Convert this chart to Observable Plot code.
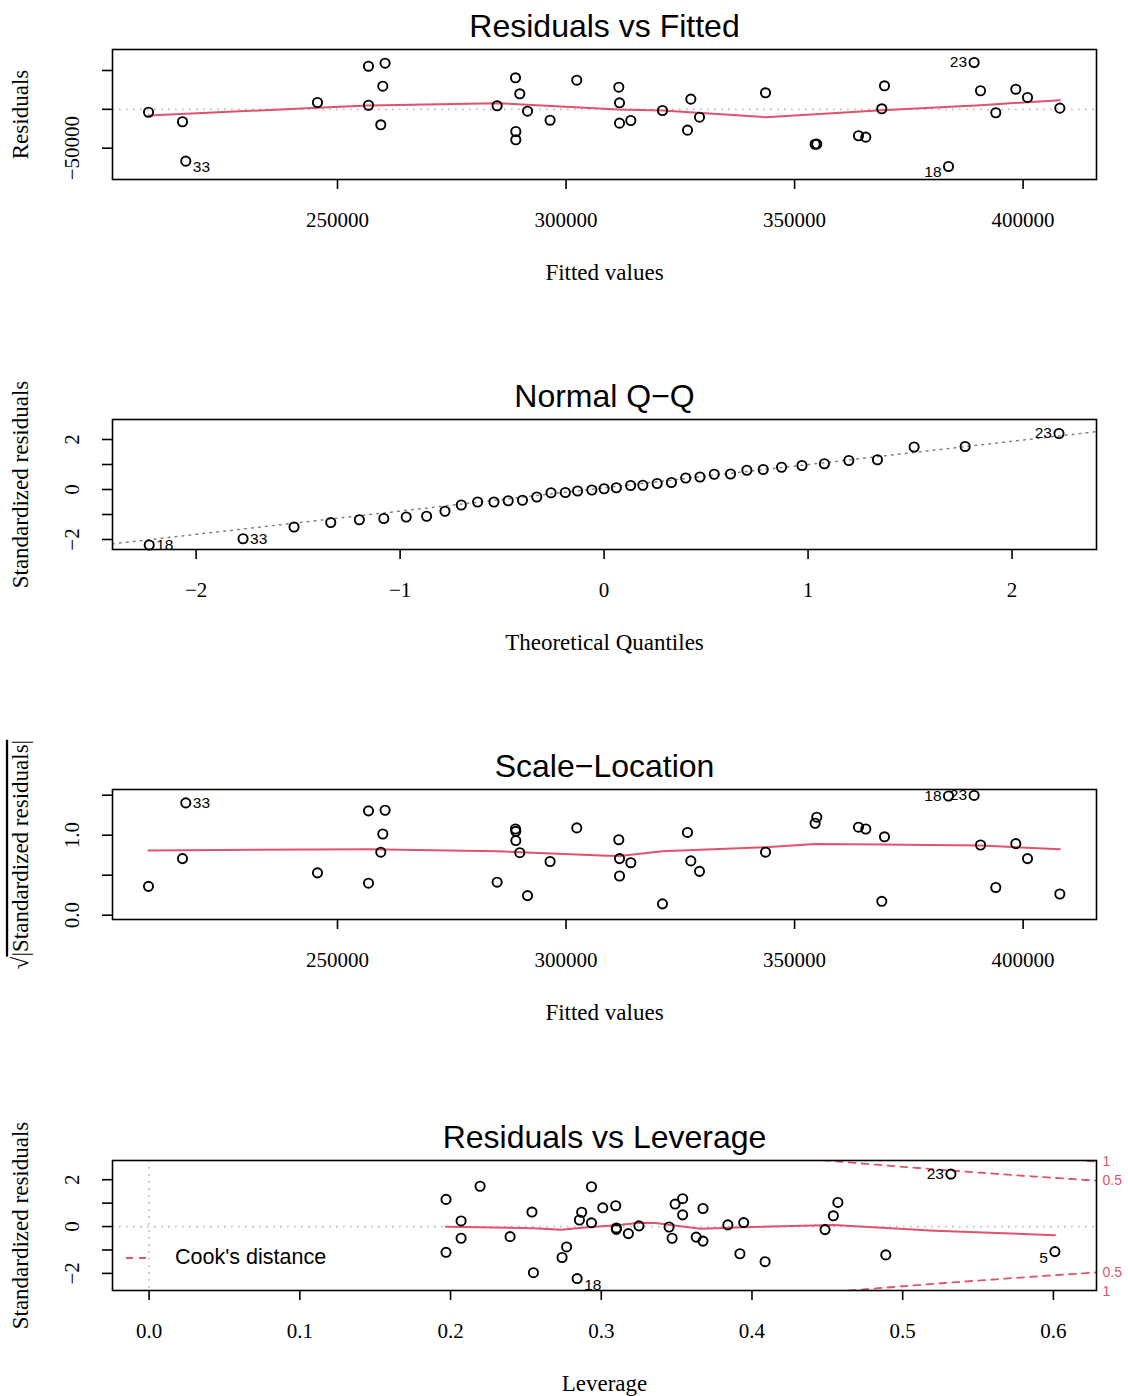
<!DOCTYPE html>
<html>
<head>
<meta charset="utf-8">
<script src="https://cdn.jsdelivr.net/npm/d3@7"></script>
<script src="https://cdn.jsdelivr.net/npm/@observablehq/plot@0.6"></script>
<style>
  html, body { margin: 0; padding: 0; background: #fff; overflow: hidden; }
  #chart { position: relative; width: 1128px; height: 1396px; overflow: hidden; background: #fff; }
  .panel { position: absolute; left: 0; }
  .panel svg { overflow: visible; }
  .legend-key { position: absolute; }
  .legend-text { position: absolute; transform: translateY(-50%); font-family: "Liberation Sans", Arial, Helvetica, sans-serif; font-size: 21.5px; line-height: 1; white-space: nowrap; }
</style>
</head>
<body>
<div id="chart"></div>
<script>
// ---- Model diagnostics for a linear model with 39 observations ----
// One entry per observation, in order of fitted value.
const fitted = [208650, 216090, 216810, 245620, 256780, 260410, 259910, 256780, 259470, 284920,
                288940, 289880, 291570, 296510, 289010, 289010, 302350, 311540, 311700, 311700,
                314170, 321100, 327300, 329200, 326570, 343640, 354490, 354860, 363980, 365580,
                369670, 369080, 383680, 389280, 390680, 394020, 398400, 400960, 408030];
const residual = [-3700, -16000, -66700, 8800, 55500, 59400, 29800, 5300, -19900, 4600,
                  40600, 20000, -2400, -14000, -28500, -39200, 37500, 28500, 8400, -17800,
                  -14400, -1500, 13100, -10100, -26800, 21300, -44900, -44700, -34000, -35800,
                  30300, 700, -73600, 60300, 23900, -4400, 25900, 15300, 1500];
const stdResid = [-0.13, -0.50, -1.97, 0.28, 1.70, 1.72, 1.03, 0.16, -0.62, 0.17,
                  1.16, 0.61, -0.06, -0.45, -0.87, -1.10, 1.19, 0.89, 0.24, -0.50,
                  -0.43, -0.02, 0.46, -0.30, -1.07, 0.62, -1.32, -1.50, -1.21, -1.16,
                  0.96, 0.03, -2.22, 2.24, 0.77, -0.12, 0.80, 0.50, 0.07];
const leverage = [0.4485, 0.347, 0.255, 0.2855, 0.2935, 0.2196, 0.457, 0.2935, 0.3675, 0.3945,
                  0.197, 0.287, 0.31, 0.363, 0.277, 0.197, 0.354, 0.3096, 0.207, 0.207,
                  0.2395, 0.345, 0.454, 0.318, 0.601, 0.254, 0.274, 0.4087, 0.4888, 0.392,
                  0.349, 0.325, 0.284, 0.532, 0.3675, 0.31, 0.301, 0.354, 0.384];

// Row names of the observations that get an id label (position in the arrays above, 1-based)
const labelPos = [3, 33, 34, 25];
const labelText = ["33", "18", "23", "5"];
const residIds = ["33", "18", "23"];   // largest residuals
const cookIds = ["18", "23", "5"];     // largest Cook's distances

// Normal quantiles for 39 points
const theoQuant = [-2.23, -1.77, -1.52, -1.34, -1.20, -1.08, -0.97, -0.87, -0.78, -0.70,
                   -0.62, -0.54, -0.47, -0.40, -0.33, -0.26, -0.19, -0.13, -0.06, 0.00,
                   0.06, 0.13, 0.19, 0.26, 0.33, 0.40, 0.47, 0.54, 0.62, 0.70,
                   0.78, 0.87, 0.97, 1.08, 1.20, 1.34, 1.52, 1.77, 2.23];

// Smoothers (lowess)
const smoothFitFitted = [208650, 245620, 256780, 284920, 311390, 321100, 343640, 369080, 390680, 400960, 408030];
const smoothFitResid  = [-7900, 2000, 5000, 7900, -200, -1500, -10100, -1100, 5300, 9200, 11800];
const smoothScaleFitted = [208650, 256780, 284920, 307600, 311700, 321100, 343640, 354490, 369080, 390680, 408030];
const smoothScaleValue  = [0.81, 0.825, 0.80, 0.746, 0.74, 0.80, 0.85, 0.89, 0.885, 0.87, 0.825];
const smoothLevLeverage = [0.197, 0.255, 0.273, 0.293, 0.310, 0.326, 0.336, 0.346, 0.366, 0.3945, 0.454, 0.521, 0.601];
const smoothLevResid    = [-0.01, -0.07, -0.14, -0.02, 0.06, 0.16, 0.15, 0.07, -0.09, -0.03, 0.07, -0.18, -0.37];

const params = 13;           // number of coefficients in the model
const cookLevels = [0.5, 1];

// Tick values
const fittedTicks = [250000, 300000, 350000, 400000];
const quantTicks = [-2, -1, 0, 1, 2];
const leverageTicks = [0, 0.1, 0.2, 0.3, 0.4, 0.5, 0.6];
const residTicks = [-50000, 0, 50000];
const residTickLabels = [-50000];
const stdTicks = [-2, -1, 0, 1, 2];
const stdTickLabels = [-2, 0, 2];
const sqrtTicks = [0, 0.5, 1, 1.5];
const sqrtTickLabels = [0, 1];

// ---- Layout & style ----
const W = 1128, H = 285, MT = 49, FH = 130, ML = 112, MR = 32;
const serif = '"Liberation Serif", "Times New Roman", serif';
const sans = '"Liberation Sans", Arial, Helvetica, sans-serif';
const RED = "#DF536B", GRAY = "#BEBEBE";
const DOT = "1.7,5.3";
const minus = s => String(s).replace("-", "\u2212");

const obs = fitted.map((f, i) => {
  const k = labelPos.indexOf(i + 1);
  return {fitted: f, resid: residual[i], std: stdResid[i], lev: leverage[i], id: k >= 0 ? labelText[k] : ""};
});
const qq = [...obs].sort((a, b) => a.std - b.std).map((d, i) => ({...d, theo: theoQuant[i]}));

const chart = document.getElementById("chart");

function idLabels(data, x, y, ids, mid, shiftNeg) {
  const sel = data.filter(d => ids.includes(d.id));
  const marks = [];
  for (const left of [false, true]) for (const neg of [false, true]) {
    const group = sel.filter(d => (x(d) > mid) === left && (shiftNeg && y(d) < 0) === neg);
    if (!group.length) continue;
    marks.push(Plot.text(group, {
      x, y, text: "id", textAnchor: left ? "end" : "start", dx: left ? -7 : 7, dy: neg ? 6 : 0,
      fontSize: 15.5, fontFamily: sans, lineAnchor: "middle"
    }));
  }
  return marks;
}

function panel({top, title, xDomain, yDomain, xTicks, xFmt, yTicks, yLabelTicks, yFmt, xLabel, yLabel, marks}) {
  const svg = Plot.plot({
    width: W, height: H,
    marginTop: MT, marginBottom: H - MT - FH, marginLeft: ML, marginRight: MR,
    x: {domain: xDomain},
    y: {domain: yDomain},
    style: {overflow: "visible", background: "transparent"},
    marks: [
      ...marks,
      Plot.frame({stroke: "black", strokeWidth: 1.6}),
      Plot.axisX(xTicks, {tickSize: 10, tickPadding: 23, tickFormat: xFmt, fontSize: 21, fontFamily: serif, label: null, strokeWidth: 1.6}),
      Plot.axisY(yTicks, {tickSize: 10, tickFormat: () => "", label: null, strokeWidth: 1.6}),
      Plot.text(yLabelTicks, {y: d => d, text: yFmt, frameAnchor: "left", dx: -40, rotate: -90,
        textAnchor: "middle", lineAnchor: "middle", fontSize: 21, fontFamily: serif}),
      Plot.text([title], {text: d => d, frameAnchor: "top", dy: -23, fontSize: 32, fontFamily: sans,
        textAnchor: "middle", lineAnchor: "middle"}),
      Plot.text([xLabel], {text: d => d, frameAnchor: "bottom", dy: 93, fontSize: 23, fontFamily: serif,
        textAnchor: "middle", lineAnchor: "middle"}),
      Plot.text([yLabel], {text: d => d, frameAnchor: "left", dx: -92, rotate: -90, fontSize: 23, fontFamily: serif,
        textAnchor: "middle", lineAnchor: "middle"})
    ]
  });
  const wrap = document.createElement("div");
  wrap.className = "panel";
  wrap.style.top = top + "px";
  wrap.appendChild(svg);
  chart.appendChild(wrap);
  return svg;
}

const fittedDomain = [200774, 416054];
const fittedMid = d3.mean(fittedDomain);
const dotStyle = {r: 4.6, stroke: "black", strokeWidth: 1.9, fill: "none"};

// 1. Residuals vs Fitted
panel({
  top: 0, title: "Residuals vs Fitted",
  xDomain: fittedDomain, yDomain: [-90300, 77000],
  xTicks: fittedTicks, xFmt: d => String(d),
  yTicks: residTicks, yLabelTicks: residTickLabels, yFmt: d => minus(d),
  xLabel: "Fitted values", yLabel: "Residuals",
  marks: [
    Plot.ruleY([0], {stroke: GRAY, strokeWidth: 1.7, strokeDasharray: DOT}),
    Plot.line(smoothFitFitted.map((x, i) => ({x, y: smoothFitResid[i]})), {x: "x", y: "y", stroke: RED, strokeWidth: 2}),
    Plot.dot(obs, {x: "fitted", y: "resid", ...dotStyle}),
    ...idLabels(obs, d => d.fitted, d => d.resid, residIds, fittedMid, true)
  ]
});

// 2. Normal Q-Q
const qDomain = [-2.41, 2.414];
const q1 = d3.quantile(qq, 0.25, d => d.std), q3 = d3.quantile(qq, 0.75, d => d.std);
const z75 = 0.6745;
const qqSlope = (q3 - q1) / (2 * z75), qqIntercept = q1 + z75 * qqSlope;
panel({
  top: 370, title: "Normal Q\u2212Q",
  xDomain: qDomain, yDomain: [-2.4, 2.8],
  xTicks: quantTicks, xFmt: d => minus(d),
  yTicks: stdTicks, yLabelTicks: stdTickLabels, yFmt: d => minus(d),
  xLabel: "Theoretical Quantiles", yLabel: "Standardized residuals",
  marks: [
    Plot.line(qDomain.map(x => ({x, y: qqIntercept + qqSlope * x})), {x: "x", y: "y", stroke: "#808080", strokeWidth: 1.5, strokeDasharray: DOT, clip: true}),
    Plot.dot(qq, {x: "theo", y: "std", ...dotStyle}),
    ...idLabels(qq, d => d.theo, d => d.std, residIds, 0, false)
  ]
});

// 3. Scale-Location
const sqrtLabel = "\u221A|Standardized residuals|";
const svg3 = panel({
  top: 740, title: "Scale\u2212Location",
  xDomain: fittedDomain, yDomain: [-0.054, 1.571],
  xTicks: fittedTicks, xFmt: d => String(d),
  yTicks: sqrtTicks, yLabelTicks: sqrtTickLabels, yFmt: d => d.toFixed(1),
  xLabel: "Fitted values", yLabel: sqrtLabel,
  marks: [
    Plot.line(smoothScaleFitted.map((x, i) => ({x, y: smoothScaleValue[i]})), {x: "x", y: "y", stroke: RED, strokeWidth: 2}),
    Plot.dot(obs, {x: "fitted", y: d => Math.sqrt(Math.abs(d.std)), ...dotStyle}),
    ...idLabels(obs, d => d.fitted, d => Math.sqrt(Math.abs(d.std)), residIds, fittedMid, false)
  ]
});
// radical sign with a bar over its argument
d3.select(svg3).selectAll("text").filter(function () { return this.textContent === sqrtLabel; })
  .each(function () {
    const t = d3.select(this);
    t.text(null);
    t.append("tspan").text("\u221A");
    t.append("tspan").style("text-decoration", "overline").text("|Standardized residuals|");
  });

// 4. Residuals vs Leverage
const levDomain = [-0.0243, 0.6286];
const levMax = levDomain[1];
const hGrid = d3.range(0.15, levMax + 0.002, 0.002);
const cookCurves = cookLevels.flatMap(level => [1, -1].flatMap(sign =>
  hGrid.map(h => ({h, key: `${level}:${sign}`, r: sign * Math.sqrt(level * params * (1 - h) / h)}))));
const cookEnds = cookLevels.flatMap(level => [1, -1].map(sign =>
  ({level, r: sign * Math.sqrt(level * params * (1 - levMax) / levMax)})));
panel({
  top: 1111, title: "Residuals vs Leverage",
  xDomain: levDomain, yDomain: [-2.73, 2.82],
  xTicks: leverageTicks, xFmt: d => d.toFixed(1),
  yTicks: stdTicks, yLabelTicks: stdTickLabels, yFmt: d => minus(d),
  xLabel: "Leverage", yLabel: "Standardized residuals",
  marks: [
    Plot.ruleY([0], {stroke: GRAY, strokeWidth: 1.7, strokeDasharray: DOT}),
    Plot.ruleX([0], {stroke: GRAY, strokeWidth: 1.7, strokeDasharray: DOT}),
    Plot.line(cookCurves, {x: "h", y: "r", z: "key", stroke: RED, strokeWidth: 1.8, strokeDasharray: "7,6", clip: true}),
    Plot.text(cookEnds, {y: "r", text: d => String(d.level), frameAnchor: "right", dx: 6, textAnchor: "start",
      lineAnchor: "middle", fill: RED, fontSize: 14, fontFamily: sans}),
    Plot.line(smoothLevLeverage.map((x, i) => ({x, y: smoothLevResid[i]})), {x: "x", y: "y", stroke: RED, strokeWidth: 2}),
    Plot.dot(obs, {x: "lev", y: "std", ...dotStyle}),
    ...idLabels(obs, d => d.lev, d => d.std, cookIds, d3.mean(levDomain), true)
  ]
});

// Legend for the Cook's distance contours
const key = d3.select(chart).append("svg").attr("class", "legend-key")
  .attr("width", 28).attr("height", 10)
  .style("left", "124px").style("top", "1253px");
key.append("line").attr("x1", 2).attr("x2", 26).attr("y1", 5).attr("y2", 5)
  .attr("stroke", RED).attr("stroke-width", 1.8).attr("stroke-dasharray", "7,6");
d3.select(chart).append("div").attr("class", "legend-text")
  .style("left", "175px").style("top", "1258px").text("Cook's distance");
</script>
</body>
</html>
